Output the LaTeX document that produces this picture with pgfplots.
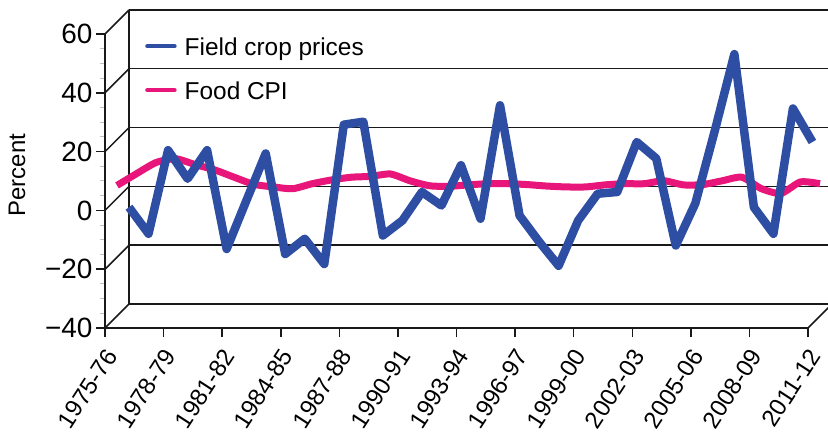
\documentclass[border=0pt]{standalone}
\usepackage{fontspec}
\setmainfont{Liberation Sans}
\usepackage{pgfplots}
\pgfplotsset{compat=1.18}
\definecolor{cropblue}{RGB}{46,78,163}
\definecolor{cpipink}{RGB}{232,22,122}
\definecolor{wall}{RGB}{25,25,25}

\begin{document}
\begin{tikzpicture}
% front plane: ticks and labels
\begin{axis}[
    at={(0bp,0bp)}, anchor=south west,
    width=703bp, height=294bp, scale only axis,
    xmin=1975, xmax=2011, ymin=-40, ymax=60,
    axis x line*=bottom, axis y line*=left,
    axis line style={-, line width=1.8bp, wall},
    xtick pos=bottom, ytick pos=left,
    xtick={1975,1978,...,2011},
    xticklabels={1975-76,1978-79,1981-82,1984-85,1987-88,1990-91,1993-94,1996-97,1999-00,2002-03,2005-06,2008-09,2011-12},
    ytick={-40,-20,...,60},
    yticklabels={−40,−20,0,20,40,60},
    minor y tick num=3,
    tick align=outside,
    major tick length=9bp, minor tick length=5bp,
    major tick style={line width=1.5bp, wall},
    minor tick style={line width=1bp, black!25},
    yticklabel style={font=\fontsize{28}{30}\selectfont, anchor=east},
    xticklabel style={font=\fontsize{24}{26}\selectfont, xshift=8.5bp, yshift=-12bp, rotate=57, anchor=east},
    ylabel={Percent},
    ylabel style={font=\fontsize{24}{26}\selectfont, at={(axis description cs:-0.125,0.52)}, anchor=center},
]
\end{axis}

% back wall with the data
\begin{axis}[
    at={(24bp,24bp)}, anchor=south west,
    width=703bp, height=294bp, scale only axis,
    xmin=1975, xmax=2011, ymin=-40, ymax=60,
    axis x line=none, axis y line*=left,
    axis line style={-, line width=1.8bp, wall},
    ytick pos=left,
    ytick={-40,-20,...,60}, yticklabels={}, xtick=\empty,
    major tick length=0pt,
    ymajorgrids, grid style={line width=1.4bp, wall},
    clip=false,
    reverse legend,
    legend style={at={(0,1)}, anchor=north west, xshift=16bp, yshift=-27bp,
        draw=none, fill=none, inner sep=0pt, row sep=21bp,
        font=\fontsize{24.5}{26}\selectfont,
        nodes={inner sep=0pt, anchor=base west, text height=18bp, text depth=5bp}},
    legend cell align=left,
    legend image code/.code={\draw[#1, line width=4.5bp, line cap=round] (0bp,9bp) -- (27bp,9bp); \path (33bp,9bp);},
]
% depth edges from the front plane
\pgfplotsinvokeforeach{-40,-20,0,20,40,60}{
    \draw[line width=1.5bp, wall] (axis cs:1975,#1) -- ++(-24bp,-24bp);
}
\draw[line width=1.5bp, wall] (axis cs:2011,-40) -- ++(-24bp,-24bp);

% Food CPI sits halfway between the planes (12bp nearer)
\addplot[cpipink, line width=7bp, smooth, tension=0.4,
    x filter/.expression={x-0.6145}, y filter/.expression={y-4.08}] coordinates {
    (1975,4.4) (1976,8.4) (1977,12.2) (1978,13.5) (1979,11.5) (1980,9.7)
    (1981,7.2) (1982,4.8) (1983,3.9) (1984,3.3) (1985,5.0) (1986,6.3)
    (1987,7.2) (1988,7.5) (1989,8.3) (1990,6.0) (1991,4.3) (1992,4.1)
    (1993,4.6) (1994,5.0) (1995,5.0) (1996,4.7) (1997,4.2) (1998,3.9)
    (1999,3.9) (2000,4.6) (2001,5.0) (2002,5.0) (2003,6.0) (2004,4.6)
    (2005,4.7) (2006,6.0) (2007,7.2) (2008,3.3) (2009,1.7) (2010,5.6)
    (2011,5.0)
};
\addlegendentry{Food CPI}

\addplot[cropblue, line width=8.5bp, line join=round] coordinates {
    (1975,-7.1) (1976,-16.1) (1977,12.3) (1978,2.6) (1979,12.3) (1980,-21.3)
    (1981,-5) (1982,11.2) (1983,-23) (1984,-17.8) (1985,-26.4) (1986,21)
    (1987,22) (1988,-16.7) (1989,-11.6) (1990,-1.9) (1991,-6.5) (1992,7.2)
    (1993,-11) (1994,27.6) (1995,-9.9) (1996,-18.8) (1997,-27) (1998,-11.6)
    (1999,-2.5) (2000,-1.9) (2001,15.1) (2002,9.5) (2003,-20.1) (2004,-5.8)
    (2005,19) (2006,45) (2007,-7.1) (2008,-16.1) (2009,26.5) (2010,15.1)
};
\addlegendentry{Field crop prices}
\end{axis}

\pgfresetboundingbox
\path[use as bounding box] (-105bp,-104bp) rectangle (723bp,328bp);
\end{tikzpicture}
\end{document}
